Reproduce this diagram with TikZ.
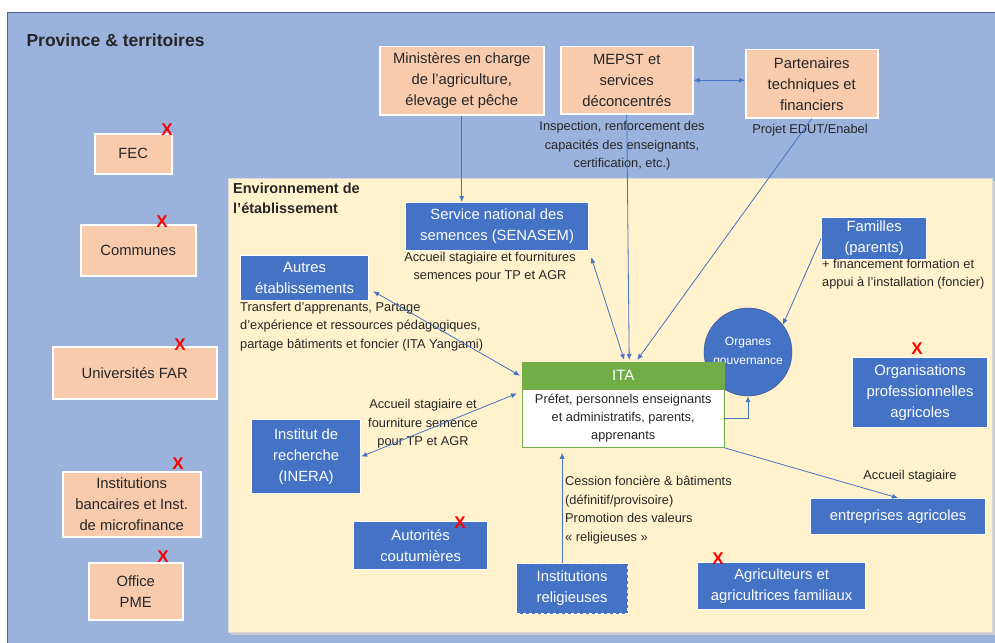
\documentclass[tikz,border=0pt]{standalone}
\usepackage{fontspec}
\setmainfont{Liberation Sans}
\usepackage{tikz}
\usetikzlibrary{arrows.meta,positioning,calc}
\definecolor{provblue}{HTML}{9BB2DD}
\definecolor{provedge}{HTML}{4A6491}
\definecolor{envyellow}{HTML}{FFF2CC}
\definecolor{peach}{HTML}{F8CBAD}
\definecolor{boxblue}{HTML}{4472C4}
\definecolor{itagreen}{HTML}{70AD47}
\definecolor{inktext}{HTML}{262626}
\tikzset{
  peachbox/.style={draw=white,line width=1.5pt,fill=peach,text=inktext,
    align=center,inner sep=2pt,anchor=north west,
    font=\fontsize{14.8}{21}\selectfont},
  bluebox/.style={draw=white,line width=1.2pt,fill=boxblue,text=white,
    align=center,inner sep=2pt,anchor=north west,
    font=\fontsize{14.8}{21}\selectfont},
  note/.style={text=inktext,align=center,inner sep=0pt,
    font=\fontsize{12.8}{18.5}\selectfont},
  redx/.style={text=red,inner sep=0pt,font=\bfseries\fontsize{17}{17}\selectfont},
  link/.style={draw=boxblue,line width=0.8pt,-{Latex[length=6pt,width=5pt]}},
  twoway/.style={link,{Latex[length=6pt,width=5pt]}-{Latex[length=6pt,width=5pt]}}
}
\begin{document}
\begin{tikzpicture}[x=1pt,y=-1pt]
  \useasboundingbox (0,0) rectangle (995,642);
  % province frame
  \fill[white] (0,0) rectangle (995,642);
  \draw[provedge,fill=provblue,line width=1pt] (7,13) rectangle (996,646);
  \node[anchor=west,font=\bfseries\fontsize{17.5}{20}\selectfont,text=inktext]
    (provtitle) at (23,40) {Province \& territoires};

  % school environment
  \fill[black!20] (231,181) rectangle (995,635);
  \draw[black!15,fill=envyellow] (228,178) rectangle (992,632);
  \node[anchor=north west,align=left,inner sep=0pt,text=inktext,
    font=\bfseries\fontsize{14.5}{20}\selectfont] (envtitle) at (233,183)
    {Environnement de\\l'établissement};

  % actors of the province
  \node[peachbox,minimum width=164,minimum height=68] (minis) at (379,46)
    {Ministères en charge\\de l'agriculture,\\élevage et pêche};
  \node[peachbox,minimum width=132,minimum height=67] (mepst) at (560,46)
    {MEPST et\\services\\déconcentrés};
  \node[peachbox,minimum width=132,minimum height=68] (partners) at (745,49)
    {Partenaires\\techniques et\\financiers};
  \node[peachbox,minimum width=77,minimum height=40] (fec) at (94,133) {FEC};
  \node[peachbox,minimum width=115,minimum height=51] (communes) at (80,224) {Communes};
  \node[peachbox,minimum width=164,minimum height=52] (univ) at (52,346) {Universités FAR};
  \node[peachbox,minimum width=138,minimum height=65] (banks) at (62,471)
    {Institutions\\bancaires et Inst.\\de microfinance};
  \node[peachbox,minimum width=94,minimum height=57] (pme) at (88,562) {Office\\PME};

  % actors around the school
  \node[bluebox,minimum width=183,minimum height=48] (senasem) at (405,202)
    {Service national des\\semences (SENASEM)};
  \node[bluebox,minimum width=128,minimum height=45] (autres) at (240,255)
    {Autres\\établissements};
  \node[bluebox,minimum width=109,minimum height=74] (inera) at (251,419)
    {Institut de\\recherche\\(INERA)};
  \node[bluebox,minimum width=134,minimum height=48] (autorites) at (353,521)
    {Autorités\\coutumières};
  \node[bluebox,dashed,minimum width=111,minimum height=50] (relig) at (516,563)
    {Institutions\\religieuses};
  \node[bluebox,minimum width=168,minimum height=47] (agri) at (697,562)
    {Agriculteurs et\\agricultrices familiaux};
  \node[bluebox,minimum width=175,minimum height=36] (entrep) at (810,498)
    {entreprises agricoles};
  \node[bluebox,minimum width=105,minimum height=42] (familles) at (821,217)
    {Familles\\(parents)};
  \node[bluebox,minimum width=135,minimum height=70] (opa) at (852,357)
    {Organisations\\professionnelles\\agricoles};
  \node[circle,draw=boxblue!70!black,fill=boxblue,text=white,minimum size=88,
    inner sep=0pt,align=center,font=\fontsize{12}{19}\selectfont] (organes)
    at (748,352) {Organes\\gouvernance};

  % ITA
  \node[anchor=north west,draw=itagreen,fill=itagreen,text=white,
    minimum width=202,minimum height=27,inner sep=0pt,
    font=\fontsize{15}{16}\selectfont] (itahead) at (522,362) {ITA};
  \node[anchor=north,draw=itagreen,fill=white,text=inktext,align=center,
    minimum width=202,minimum height=58,inner sep=0pt,
    font=\fontsize{12.8}{18}\selectfont] (itabody) at (itahead.south)
    {Préfet, personnels enseignants\\et administratifs, parents,\\apprenants};

  % crossed-out actors
  \node[redx] (xfec) at (167,130) {X};
  \node[redx] (xcom) at (162,222) {X};
  \node[redx] (xuniv) at (180,345) {X};
  \node[redx] (xbank) at (178,464) {X};
  \node[redx] (xpme) at (163,557) {X};
  \node[redx] (xaut) at (460,523) {X};
  \node[redx] (xagri) at (718,559) {X};
  \node[redx] (xopa) at (917,349) {X};

  % labels
  \node[note] (mepstnote) at (622,146)
    {Inspection, renforcement des\\capacités des enseignants,\\certification, etc.)};
  \node[note] (partnote) at (810,130) {Projet EDUT/Enabel};
  \node[note] (senanote) at (490,267)
    {Accueil stagiaire et fournitures\\semences pour TP et AGR};
  \node[note,anchor=north west,align=left] (autrenote) at (240,302)
    {Transfert d'apprenants, Partage\\d'expérience et ressources pédagogiques,\\partage bâtiments et foncier (ITA Yangami)};
  \node[note] (ineranote) at (423,424)
    {Accueil stagiaire et\\fourniture semence\\pour TP et AGR};
  \node[note,anchor=north west,align=left] (famnote) at (822,259)
    {+ financement formation et\\appui à l'installation (foncier)};
  \node[note,anchor=north west,align=left] (relignote) at (565,476)
    {Cession foncière \& bâtiments\\(définitif/provisoire)\\Promotion des valeurs\\« religieuses »};
  \node[note] (entrnote) at (910,476) {Accueil stagiaire};

  % connectors
  \draw[link] (minis.south) -- (minis.south |- senasem.north);
  \draw[link] (mepst.south) -- ([xshift=6pt,yshift=2pt]itahead.north);
  \draw[link] (partners.south) -- ([xshift=14pt,yshift=2pt]itahead.north);
  \draw[twoway] ([xshift=2pt,yshift=-6pt]senasem.south east)
    -- ([xshift=1pt,yshift=2pt]itahead.north);
  \draw[twoway] (mepst.east) -- (mepst.east -| partners.west);
  \draw[twoway] ([xshift=4pt,yshift=10pt]autres.south east) -- ([xshift=-2pt]itahead.west);
  \draw[twoway] (inera.east) -- ([xshift=-5pt,yshift=-4pt]itahead.south west);
  \draw[link] ([xshift=-10pt]relig.north)
    -- ([xshift=-10pt,yshift=-5pt]relig.north |- itabody.south);
  \draw[link] (itabody.south east) -- (entrep.north);
  \draw[link] (familles.west) -- (organes.38);
  \draw[link] (itabody.east) -- (organes.south |- itabody.east) -- (organes.south);
\end{tikzpicture}
\end{document}
